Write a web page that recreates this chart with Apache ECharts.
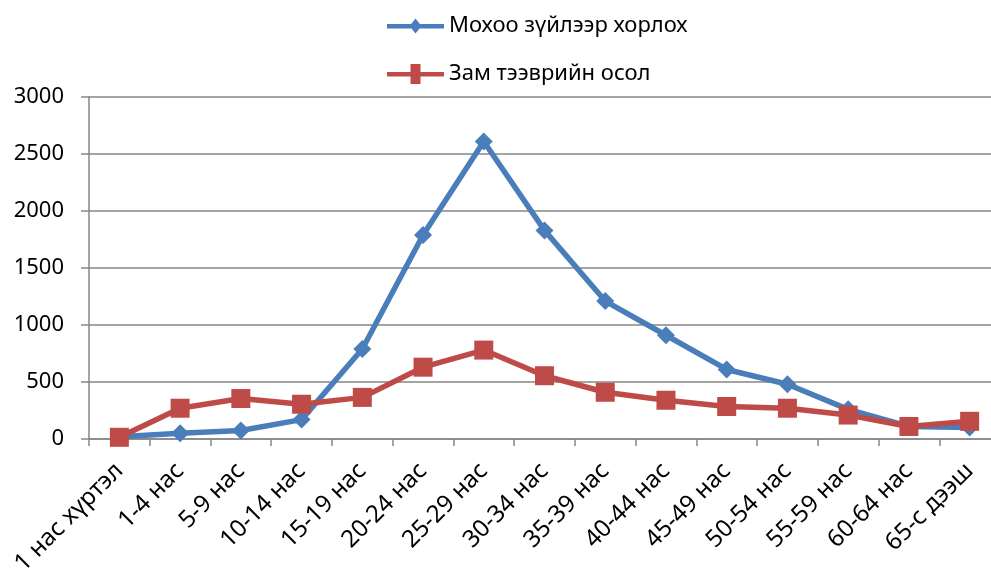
<!DOCTYPE html>
<html>
<head>
<meta charset="utf-8">
<script src="https://cdn.jsdelivr.net/npm/echarts@6/dist/echarts.min.js"></script>
<style>html,body{margin:0;padding:0;background:#fff;overflow:hidden;}#c{width:1000px;height:570px;}</style>
</head>
<body>
<div id="c"></div>
<script>
const categories = ['1 нас хүртэл','1-4 нас','5-9 нас','10-14 нас','15-19 нас','20-24 нас','25-29 нас','30-34 нас','35-39 нас','40-44 нас','45-49 нас','50-54 нас','55-59 нас','60-64 нас','65-с дээш'];
const poisoning = [20, 50, 75, 170, 790, 1790, 2610, 1830, 1210, 910, 610, 480, 260, 110, 100];
const traffic = [15, 270, 355, 305, 365, 630, 780, 555, 410, 340, 285, 270, 210, 110, 155];
const seriesNames = ['Мохоо зүйлээр хорлох', 'Зам тээврийн осол'];
const yTicks = {min: 0, max: 3000, interval: 500};

const font = 'Noto Sans';
const blueIcon = 'path://M0,8L57,8L57,12.5L0,12.5Z M22.5,10L28.5,2.5L34.5,10L28.5,17.5Z';
const redIcon = 'path://M0,8L57,8L57,12.5L0,12.5Z M23.5,0L33.5,0L33.5,20L23.5,20Z';
const chart = echarts.init(document.getElementById('c'), null, {renderer: 'canvas'});
chart.setOption({
  animation: false,
  backgroundColor: '#fff',
  textStyle: {fontFamily: font},
  legend: {
    orient: 'vertical',
    left: 382,
    top: 10,
    itemWidth: 57,
    itemHeight: 20,
    itemGap: 26,
    textStyle: {fontSize: 22, color: '#000', fontFamily: font},
    data: [{name: seriesNames[0], icon: blueIcon}, {name: seriesNames[1], icon: redIcon}]
  },
  grid: {left: 89, right: 0, top: 97, height: 342, containLabel: false, outerBoundsMode: 'none'},
  xAxis: {
    type: 'category',
    data: categories,
    boundaryGap: true,
    axisLine: {lineStyle: {color: '#868686', width: 1.5}},
    axisTick: {show: true, length: 7, interval: 0, lineStyle: {color: '#868686', width: 1.5}},
    axisLabel: {interval: 0, rotate: 45, fontSize: 24, color: '#000', margin: 28, fontFamily: font}
  },
  yAxis: {
    type: 'value',
    min: yTicks.min, max: yTicks.max, interval: yTicks.interval,
    axisLine: {show: true, lineStyle: {color: '#868686', width: 1.5}},
    axisTick: {show: true, length: 8, lineStyle: {color: '#868686', width: 1.5}},
    splitLine: {lineStyle: {color: '#868686', width: 1.5}},
    axisLabel: {fontSize: 22, color: '#000', margin: 25, fontFamily: font, formatter: v => String(v)}
  },
  series: [
    {
      name: seriesNames[0], type: 'line', data: poisoning,
      symbol: 'diamond', symbolSize: 18,
      lineStyle: {color: '#4A7EBB', width: 5.5},
      itemStyle: {color: '#4A7EBB'}
    },
    {
      name: seriesNames[1], type: 'line', data: traffic,
      symbol: 'rect', symbolSize: 19,
      lineStyle: {color: '#BE4B48', width: 5.5},
      itemStyle: {color: '#BE4B48'}
    }
  ]
});
</script>
</body>
</html>
